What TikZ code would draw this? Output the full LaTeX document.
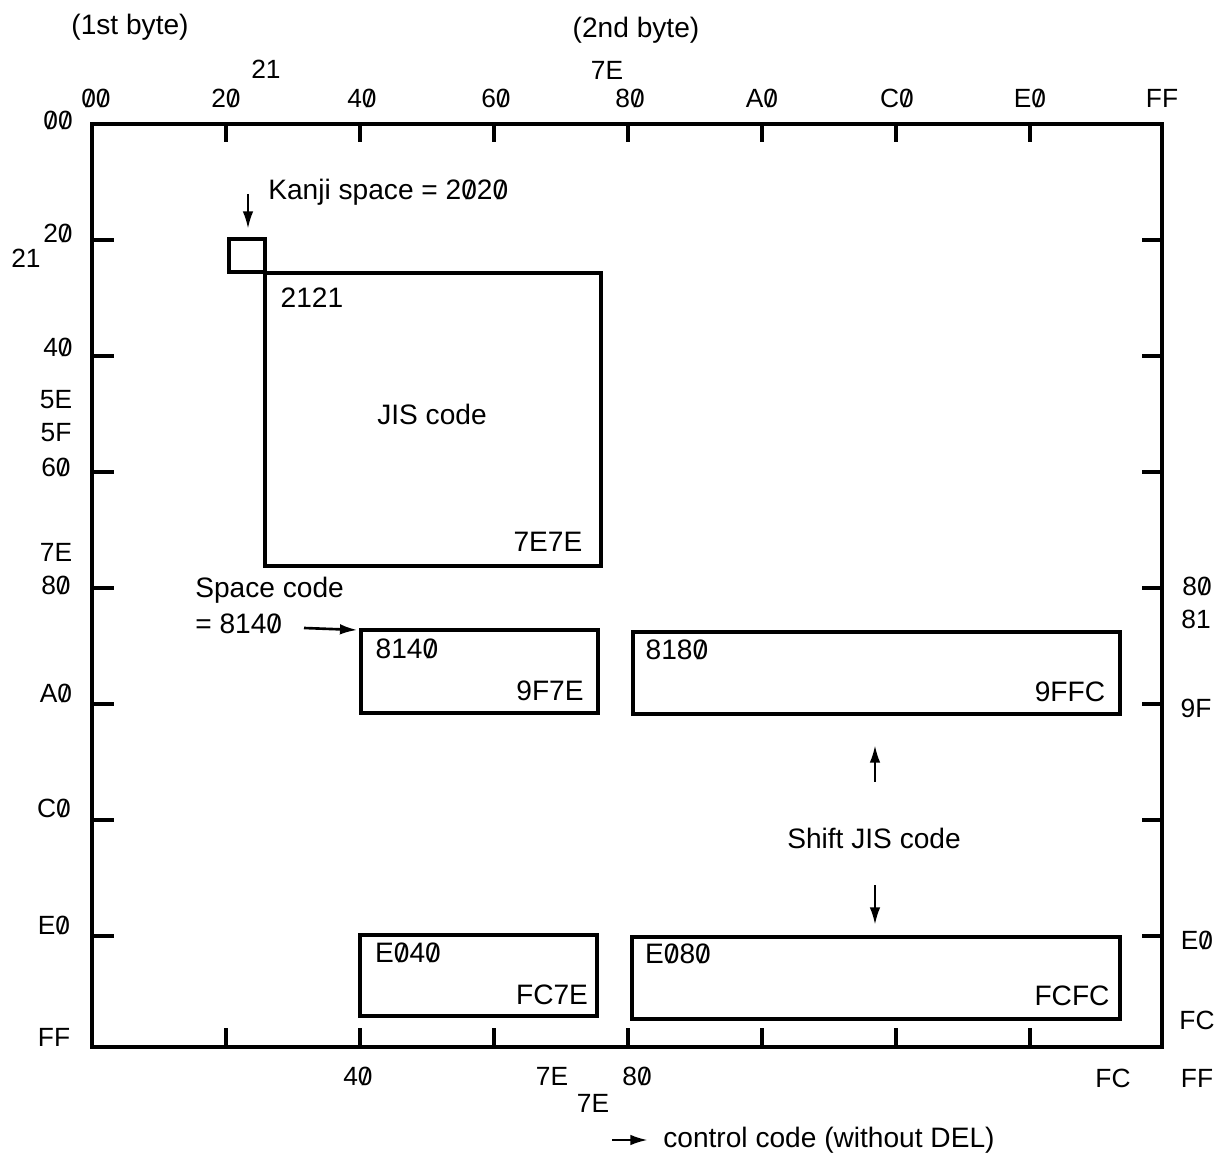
\documentclass[tikz,border=0pt]{standalone}
\usepackage{fontspec}
\setmainfont{Liberation Sans}
\usetikzlibrary{arrows.meta}
% slashed zero as printed in the hex labels
\newcommand\zs{\ooalign{0\cr\hidewidth\scalebox{1}[0.85]{/}\hidewidth\cr}}
\tikzset{
  frm/.style={line width=1.9pt},
  arr/.style={-{Latex[length=10pt,width=6pt]}, line width=1.5pt},
  hexlbl/.style={font=\fontsize{15}{17}\selectfont, inner sep=0pt},
  txt/.style={inner sep=0pt},
}
\begin{document}
\begin{tikzpicture}[x=0.02cm, y=-0.02cm, font=\fontsize{16}{19}\selectfont]
    \useasboundingbox (0,0) rectangle (1218,1158);
    % frame and ticks
    \coordinate (fnw) at (92,124);
    \coordinate (fse) at (1162,1047);
    \draw[frm] (fnw) rectangle (fse);
    \foreach \i in {1,...,7} {
        \draw[frm] (92+134*\i,124) -- ++(0,18);
        \draw[frm] (92+134*\i,1047) -- ++(0,-19);
        \draw[frm] (92,124+116*\i) -- ++(22,0);
        \draw[frm] (1162,124+116*\i) -- ++(-20,0);
    }
    % axis labels
    \node[txt] (byte1) at (130,27) {(1st byte)};
    \node[txt] (byte2) at (636,30) {(2nd byte)};
    \node[hexlbl] (t21) at (266,69) {21};
    \node[hexlbl] (t7E) at (607,70) {7E};
    \foreach \lab/\px [count=\i] in {\zs\zs/96, 2\zs/226, 4\zs/362, 6\zs/496, 8\zs/630, A\zs/762, C\zs/897, E\zs/1030, FF/1162}
        \node[hexlbl] (top\i) at (\px,98) {\lab};
    \foreach \lab/\px/\py [count=\i] in {\zs\zs/58/120, 2\zs/58/233, 21/26/258, 4\zs/58/347, 5E/56/400, 5F/56/433, 6\zs/56/467, 7E/56/552, 8\zs/56/585, A\zs/56/693, C\zs/54/808, E\zs/54/925, FF/54/1037}
        \node[hexlbl] (lft\i) at (\px,\py) {\lab};
    \foreach \lab/\px/\py [count=\i] in {8\zs/1197/586, 81/1196/619, 9F/1196/708, E\zs/1197/940, FC/1197/1020, FF/1197/1078}
        \node[hexlbl] (rgt\i) at (\px,\py) {\lab};
    \foreach \lab/\px/\py [count=\i] in {4\zs/358/1076, 7E/552/1076, 8\zs/637/1076, 7E/593/1103, FC/1113/1078}
        \node[hexlbl] (bot\i) at (\px,\py) {\lab};
    % JIS area
    \coordinate (sqnw) at (229,239);
    \coordinate (sqse) at (265,272);
    \draw[frm] (sqnw) rectangle (sqse);
    \coordinate (jisnw) at (265,273);
    \coordinate (jisse) at (601,566);
    \draw[frm] (jisnw) rectangle (jisse);
    \node[txt] (k2121) at (312,298) {2121};
    \node[txt] (jis) at (432,414) {JIS code};
    \node[txt] (k7E7E) at (548,542) {7E7E};
    \node[txt, anchor=west] (kanji) at (268,192) {Kanji space = 2\zs2\zs};
    \coordinate (ktop) at (248,194);
    \coordinate (sqtop) at (248,229);
    \draw[arr] (ktop) -- (sqtop);
    % Shift JIS areas
    \node[txt, anchor=west] (spc) at (195,590) {Space code};
    \node[txt, anchor=west] (spcv) at (195,624) {= 814\zs};
    \coordinate (spcarr) at (304,628);
    \coordinate (b1nw) at (361,630);
    \coordinate (b1se) at (598,713);
    \coordinate (b2nw) at (633,632);
    \coordinate (b2se) at (1120,714);
    \coordinate (b3nw) at (360,935);
    \coordinate (b3se) at (597,1016);
    \coordinate (b4nw) at (632,937);
    \coordinate (b4se) at (1120,1019);
    \draw[arr] (spcarr) -- ([xshift=-2pt]b1nw);
    \draw[frm] (b1nw) rectangle (b1se);
    \draw[frm] (b2nw) rectangle (b2se);
    \draw[frm] (b3nw) rectangle (b3se);
    \draw[frm] (b4nw) rectangle (b4se);
    \node[txt] (k8140) at (407,649) {814\zs};
    \node[txt] (k9F7E) at (550,691) {9F7E};
    \node[txt] (k8180) at (677,650) {818\zs};
    \node[txt] (k9FFC) at (1070,692) {9FFC};
    \node[txt] (kE040) at (408,953) {E\zs4\zs};
    \node[txt] (kFC7E) at (552,995) {FC7E};
    \node[txt] (kE080) at (678,954) {E\zs8\zs};
    \node[txt] (kFCFC) at (1072,996) {FCFC};
    \node[txt] (sjis) at (874,838) {Shift JIS code};
    \coordinate (upfrom) at (875,782);
    \coordinate (upto) at (875,745);
    \coordinate (dnfrom) at (875,885);
    \coordinate (dnto) at (875,925);
    \draw[arr] (upfrom) -- (upto);
    \draw[arr] (dnfrom) -- (dnto);
    % legend
    \coordinate (lga) at (612,1140);
    \coordinate (lgb) at (648,1140);
    \draw[arr] (lga) -- (lgb);
    \node[txt, anchor=west] (ctrl) at (663,1140) {control code (without DEL)};
\end{tikzpicture}
\end{document}
